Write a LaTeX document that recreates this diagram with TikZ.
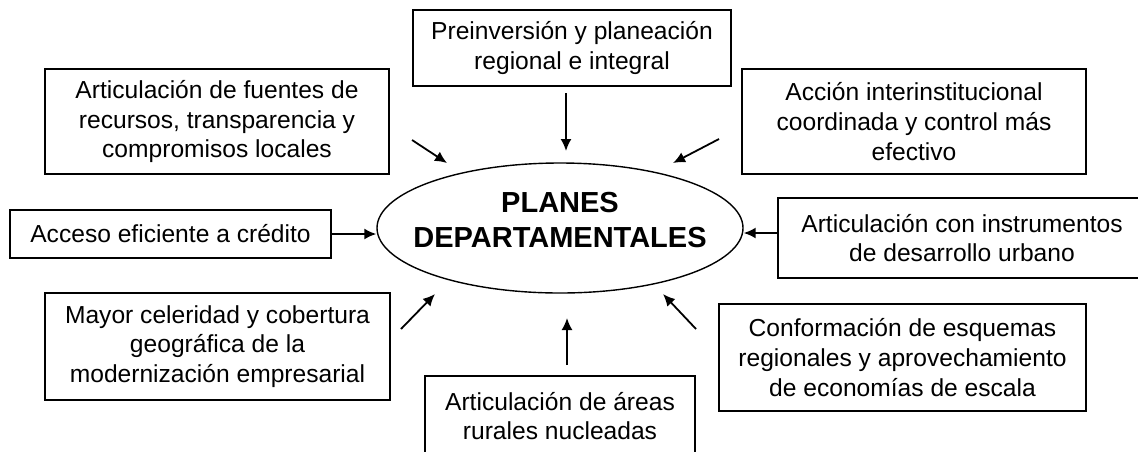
\documentclass[tikz,border=0pt]{standalone}
\usepackage{fontspec}
\setmainfont{Liberation Sans}
\usetikzlibrary{shapes.geometric,arrows.meta}

\begin{document}
\begin{tikzpicture}[x=0.5pt, y=-0.5pt,
    every node/.style={font=\fontsize{12.3}{14.9}\selectfont},
    caja/.style={draw, line width=0.7pt, align=center, inner sep=0pt},
    flecha/.style={-{Latex[length=6pt,width=5.5pt]}, line width=0.9pt}]
    \useasboundingbox (0,0) rectangle (1138,451);
    \clip (0,0) rectangle (1138,451);
    \node[caja, minimum width=159pt, minimum height=38pt] (prein) at (572,48)
        {Preinversión y planeación\\regional e integral};
    \node[caja, minimum width=172pt, minimum height=52.5pt] (fuentes) at (217,121.5)
        {Articulación de fuentes de\\recursos, transparencia y\\compromisos locales};
    \node[caja, minimum width=172pt, minimum height=52.5pt] (accion) at (914,121.5)
        {Acción interinstitucional\\coordinada y control más\\efectivo};
    \node[caja, minimum width=160.5pt, minimum height=24pt] (acceso) at (170.5,234)
        {Acceso eficiente a crédito};
    \node[caja, minimum width=184pt, minimum height=40pt] (instr) at (962,238)
        {Articulación con instrumentos\\de desarrollo urbano};
    \node[caja, minimum width=172.5pt, minimum height=53.5pt] (mayor) at (217.5,346.5)
        {Mayor celeridad y cobertura\\geográfica de la\\modernización empresarial};
    \node[caja, minimum width=183.5pt, minimum height=53.5pt] (conform) at (902.5,357.5)
        {Conformación de esquemas\\regionales y aprovechamiento\\de economías de escala};
    \node[caja, minimum width=135pt, minimum height=40pt] (rural) at (560,416)
        {Articulación de áreas\\rurales nucleadas};
    \node[ellipse, draw, line width=0.7pt, minimum width=183pt, minimum height=65pt] (plan) at (560,228) {};
    \node[font=\fontsize{14.5}{17.5}\selectfont\bfseries, align=center] (titulo) at (560,220)
        {PLANES\\DEPARTAMENTALES};
    \coordinate (c1) at (566,93);  \coordinate (p1) at (566,151);
    \coordinate (c2) at (412,140); \coordinate (p2) at (447,163);
    \coordinate (c3) at (719,139); \coordinate (p3) at (673,163);
    \coordinate (c4) at (401,329); \coordinate (p4) at (435,294);
    \coordinate (c5) at (567,365); \coordinate (p5) at (567,318);
    \coordinate (c6) at (696,329); \coordinate (p6) at (663,294);
    \foreach \i in {1,...,6}
        \draw[flecha] (c\i) -- (p\i);
    \draw[flecha] (acceso.east) -- (acceso.east -| plan.west);
    \draw[flecha] (instr.west |- 0,233) -- (plan.east |- 0,233);
\end{tikzpicture}
\end{document}
